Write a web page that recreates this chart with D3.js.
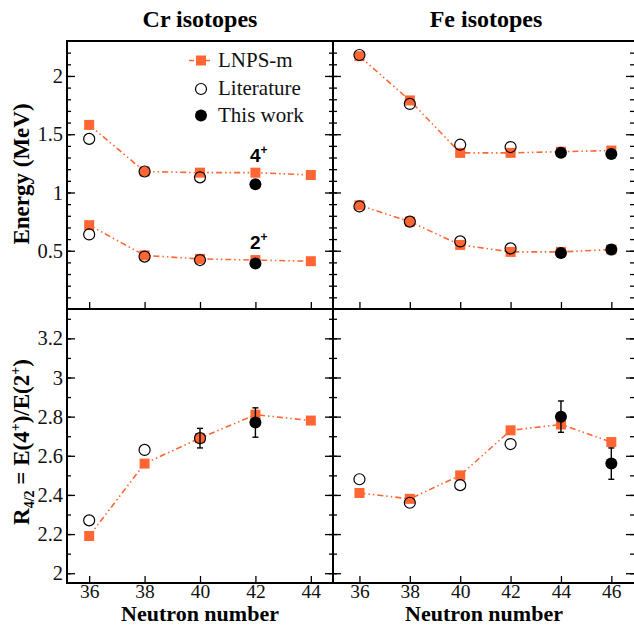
<!DOCTYPE html>
<html>
  <head>
    <meta charset="utf-8">
    <script src="https://d3js.org/d3.v7.min.js"></script>
    <title>Cr and Fe isotopes</title>
    <style>
      body { margin: 0px; background: #fff; }
      .tick line { stroke: #000; stroke-width: 1.3; }
      .domain { display: none; }
    </style>
  </head>
  <body>
    <div id="viz"></div>
    <script>
      // neutron numbers
      const crN = [36, 38, 40, 42, 44];
      const feN = [36, 38, 40, 42, 44, 46];

      // energies (MeV)
      const crLnps4 = [1.58, 1.18, 1.17, 1.17, 1.15];
      const crLnps2 = [0.72, 0.46, 0.43, 0.42, 0.41];
      const crLitN = [36, 38, 40];
      const crLit4 = [1.46, 1.18, 1.13];
      const crLit2 = [0.64, 0.45, 0.42];
      const crThisN = [42];
      const crThis4 = [1.07];
      const crThis2 = [0.39];

      const feLnps4 = [2.17, 1.79, 1.34, 1.34, 1.35, 1.36];
      const feLnps2 = [0.89, 0.75, 0.55, 0.49, 0.49, 0.51];
      const feLitN = [36, 38, 40, 42];
      const feLit4 = [2.18, 1.76, 1.41, 1.39];
      const feLit2 = [0.88, 0.75, 0.58, 0.52];
      const feThisN = [44, 46];
      const feThis4 = [1.34, 1.33];
      const feThis2 = [0.48, 0.51];

      // R4/2 ratios
      const crLnpsR = [2.19, 2.56, 2.69, 2.81, 2.78];
      const crLitR = [2.27, 2.63, 2.69];
      const crLitRErr = [0, 0, 0.05];
      const crThisR = [2.77];
      const crThisRErr = [0.075];

      const feLnpsR = [2.41, 2.38, 2.50, 2.73, 2.76, 2.67];
      const feLitR = [2.48, 2.36, 2.45, 2.66];
      const feLitRErr = [0, 0, 0, 0];
      const feThisR = [2.80, 2.56];
      const feThisRErr = [0.08, 0.08];

      // ticks
      const eMajor = [0.5, 1, 1.5, 2];
      const eMinor = d3.range(1, 23).map(i => i / 10);
      const rMajor = [2, 2.2, 2.4, 2.6, 2.8, 3, 3.2];
      const rMinor = d3.range(20, 34).map(i => i / 10);

      const orange = '#ff6633';
      const dash = '6,3,1.5,3,1.5,3';
      const serif = '"Liberation Serif", "Times New Roman", serif';
      const sans = '"Liberation Sans", Arial, sans-serif';

      const svg = d3.select('#viz').append('svg')
        .attr('width', 634)
        .attr('height', 626);

      //panel boxes
      const colL = { x0: 67, x1: 333, dom: [35.2, 44.8], n: crN };
      const colR = { x0: 333, x1: 634, dom: [34.95, 46.9], n: feN };
      const rowT = { y0: 41, y1: 309, dom: [0, 2.3], major: eMajor, minor: eMinor };
      const rowB = { y0: 309, y1: 583, dom: [1.95, 3.35], major: rMajor, minor: rMinor };

      const styleAxis = size => sel => sel
        .attr('font-family', serif)
        .attr('font-size', size)
        .call(a => a.selectAll('text').attr('fill', '#111'));

      const drawPanel = (col, row, s) => {
        const x = d3.scaleLinear().domain(col.dom).range([col.x0, col.x1]);
        const y = d3.scaleLinear().domain(row.dom).range([row.y1, row.y0]);
        const g = svg.append('g');

        // y ticks on left, inward
        g.append('g').attr('transform', `translate(${col.x0},0)`)
          .call(d3.axisLeft(y).tickValues(row.minor).tickSizeInner(-4).tickSizeOuter(0).tickFormat(''));
        g.append('g').attr('transform', `translate(${col.x0},0)`)
          .call(d3.axisLeft(y).tickValues(row.major).tickSizeInner(-8).tickSizeOuter(0).tickPadding(4)
            .tickFormat(s.yLabels ? d3.format('') : ''))
          .call(styleAxis(20.5));
        // mirrored ticks on right
        g.append('g').attr('transform', `translate(${col.x1},0)`)
          .call(d3.axisRight(y).tickValues(row.minor).tickSizeInner(-4).tickSizeOuter(0).tickFormat(''));
        g.append('g').attr('transform', `translate(${col.x1},0)`)
          .call(d3.axisRight(y).tickValues(row.major).tickSizeInner(-8).tickSizeOuter(0).tickFormat(''));
        // x ticks on bottom
        g.append('g').attr('transform', `translate(0,${row.y1})`)
          .call(d3.axisBottom(x).tickValues(col.n).tickSizeInner(-7).tickSizeOuter(0).tickPadding(1)
            .tickFormat(s.xLabels ? d3.format('') : ''))
          .call(styleAxis(19.5));

        // frame
        g.append('rect')
          .attr('x', col.x0).attr('y', row.y0)
          .attr('width', col.x1 - col.x0 + (col.x1 > 600 ? 10 : 0))
          .attr('height', row.y1 - row.y0)
          .attr('fill', 'none').attr('stroke', '#000').attr('stroke-width', 2);

        const line = d3.line().x(d => x(d[0])).y(d => y(d[1]));

        s.series.forEach(ser => {
          const lnps = col.n.map((n, i) => [n, ser.lnps[i]]);
          g.append('path').datum(lnps)
            .attr('d', line)
            .attr('fill', 'none').attr('stroke', orange)
            .attr('stroke-width', 1.6).attr('stroke-dasharray', dash);
          g.append('g').selectAll('rect').data(lnps).join('rect')
            .attr('x', d => x(d[0]) - 5).attr('y', d => y(d[1]) - 5)
            .attr('width', 10).attr('height', 10)
            .attr('fill', orange);

          const lit = ser.litN.map((n, i) => [n, ser.lit[i], ser.litErr ? ser.litErr[i] : 0]);
          const tw = ser.thisN.map((n, i) => [n, ser.tw[i], ser.twErr ? ser.twErr[i] : 0]);

          g.append('g').selectAll('circle').data(lit).join('circle')
            .attr('cx', d => x(d[0])).attr('cy', d => y(d[1])).attr('r', 5.5)
            .attr('fill', 'none').attr('stroke', '#000').attr('stroke-width', 1.2);
          g.append('g').selectAll('circle').data(tw).join('circle')
            .attr('cx', d => x(d[0])).attr('cy', d => y(d[1])).attr('r', 6)
            .attr('fill', '#000');

          // error bars
          const errs = lit.concat(tw).filter(d => d[2] > 0);
          const eb = g.append('g').selectAll('g').data(errs).join('g')
            .attr('stroke', '#000').attr('stroke-width', 1.4);
          eb.append('line')
            .attr('x1', d => x(d[0])).attr('x2', d => x(d[0]))
            .attr('y1', d => y(d[1] - d[2])).attr('y2', d => y(d[1] + d[2]));
          eb.append('line')
            .attr('x1', d => x(d[0]) - 3).attr('x2', d => x(d[0]) + 3)
            .attr('y1', d => y(d[1] + d[2])).attr('y2', d => y(d[1] + d[2]));
          eb.append('line')
            .attr('x1', d => x(d[0]) - 3).attr('x2', d => x(d[0]) + 3)
            .attr('y1', d => y(d[1] - d[2])).attr('y2', d => y(d[1] - d[2]));
        });

        return { x, y, g };
      };

      const tl = drawPanel(colL, rowT, {
        yLabels: true, xLabels: false,
        series: [
          { lnps: crLnps4, litN: crLitN, lit: crLit4, thisN: crThisN, tw: crThis4 },
          { lnps: crLnps2, litN: crLitN, lit: crLit2, thisN: crThisN, tw: crThis2 }
        ]
      });
      drawPanel(colR, rowT, {
        yLabels: false, xLabels: false,
        series: [
          { lnps: feLnps4, litN: feLitN, lit: feLit4, thisN: feThisN, tw: feThis4 },
          { lnps: feLnps2, litN: feLitN, lit: feLit2, thisN: feThisN, tw: feThis2 }
        ]
      });
      drawPanel(colL, rowB, {
        yLabels: true, xLabels: true,
        series: [
          { lnps: crLnpsR, litN: crLitN, lit: crLitR, litErr: crLitRErr, thisN: crThisN, tw: crThisR, twErr: crThisRErr }
        ]
      });
      drawPanel(colR, rowB, {
        yLabels: false, xLabels: true,
        series: [
          { lnps: feLnpsR, litN: feLitN, lit: feLitR, litErr: feLitRErr, thisN: feThisN, tw: feThisR, twErr: feThisRErr }
        ]
      });

      // state labels
      const stateLabel = (num, val) => {
        const t = svg.append('text')
          .attr('font-family', sans).attr('font-weight', 'bold').attr('font-size', 19)
          .attr('x', 250).attr('y', tl.y(val) - 11);
        t.append('tspan').text(num);
        t.append('tspan').attr('dy', -8).attr('font-size', 12).text('+');
      };
      stateLabel('4', 1.17);
      stateLabel('2', 0.42);

      // legend
      const lg = svg.append('g')
        .attr('font-family', serif).attr('font-size', 21).attr('fill', '#111');
      lg.append('line').attr('x1', 189).attr('x2', 213).attr('y1', 60.5).attr('y2', 60.5)
        .attr('stroke', orange).attr('stroke-width', 1.6).attr('stroke-dasharray', '5,3');
      lg.append('rect').attr('x', 196).attr('y', 55.5).attr('width', 10).attr('height', 10).attr('fill', orange);
      lg.append('text').attr('x', 218).attr('y', 67).text('LNPS-m');
      lg.append('circle').attr('cx', 201).attr('cy', 89).attr('r', 5.5)
        .attr('fill', 'none').attr('stroke', '#000').attr('stroke-width', 1.2);
      lg.append('text').attr('x', 218).attr('y', 95).text('Literature');
      lg.append('circle').attr('cx', 201).attr('cy', 115.5).attr('r', 6).attr('fill', '#000');
      lg.append('text').attr('x', 218).attr('y', 122).text('This work');

      // titles and axis labels
      const boldText = (x, y, size, txt) => svg.append('text')
        .attr('font-family', serif).attr('font-weight', 'bold').attr('font-size', size)
        .attr('x', x).attr('y', y).attr('text-anchor', 'middle').text(txt);

      boldText(200, 27, 24, 'Cr isotopes');
      boldText(486, 27, 24, 'Fe isotopes');
      boldText(200, 621.2, 22, 'Neutron number');
      boldText(484, 621.2, 22, 'Neutron number');

      svg.append('text')
        .attr('font-family', serif).attr('font-weight', 'bold').attr('font-size', 23)
        .attr('transform', 'translate(29,174) rotate(-90)')
        .attr('text-anchor', 'middle').text('Energy (MeV)');

      const rl = svg.append('text')
        .attr('font-family', serif).attr('font-weight', 'bold').attr('font-size', 23)
        .attr('transform', 'translate(29,442) rotate(-90)')
        .attr('text-anchor', 'middle');
      rl.append('tspan').text('R');
      rl.append('tspan').attr('font-size', 14).attr('dy', 5).text('4/2');
      rl.append('tspan').attr('dy', -5).text(' = E(4');
      rl.append('tspan').attr('font-size', 14).attr('dy', -9).text('+');
      rl.append('tspan').attr('dy', 9).text(')/E(2');
      rl.append('tspan').attr('font-size', 14).attr('dy', -9).text('+');
      rl.append('tspan').attr('dy', 9).text(')');
    </script>
  </body>
</html>
